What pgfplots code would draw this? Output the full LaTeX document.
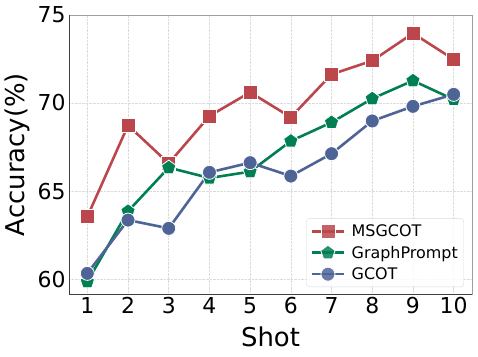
\documentclass[border=0pt]{standalone}
\usepackage{fontspec}
\setmainfont{DejaVu Sans}
\usepackage{pgfplots}
\pgfplotsset{compat=1.18}
\definecolor{mred}{RGB}{187,71,77}
\definecolor{mgreen}{RGB}{0,128,82}
\definecolor{mblue}{RGB}{78,100,150}

\begin{document}
\begin{tikzpicture}
\path[use as bounding box] (-69bp,-63bp) rectangle (409bp,294bp);
\begin{axis}[
  at={(0,0)}, anchor=south west,
  scale only axis, width=403bp, height=279bp,
  xmin=0.55, xmax=10.45, ymin=59.15, ymax=75,
  xtick={1,...,10}, ytick={60,65,70,75},
  grid=major, grid style={densely dotted, gray!28, line width=0.6pt},
  major tick length=0pt,
  axis line style={gray!75, line width=0.8pt},
  ticklabel style={font=\fontsize{22}{22}\selectfont},
  /pgf/number format/assume math mode=true,
  xlabel={Shot}, ylabel={Accuracy(\%)},
  label style={font=\fontsize{26}{26}\selectfont},
  xlabel style={at={(axis description cs:0.5,-0.155)}, anchor=center},
  ylabel style={at={(axis description cs:-0.129,0.5)}, anchor=center},
  every axis plot/.append style={line width=2.6pt},
  legend style={font=\fontsize{16}{18}\selectfont,
    at={(axis description cs:0.980,0.025)}, anchor=south east,
    draw=gray!30, rounded corners=3pt, fill=white, fill opacity=0.85,
    text opacity=1, inner xsep=4pt, inner ysep=4pt, row sep=4pt,
    /tikz/every odd column/.append style={column sep=4bp}},
  legend cell align=left,
  legend image code/.code={
    \draw[mark repeat=2,mark phase=2] plot coordinates {(0cm,0cm) (0.58cm,0cm) (1.16cm,0cm)};},
]
\addplot[mred, mark=square*, mark size=7bp, mark options={draw=white, line width=0.8pt, fill=mred}]
  coordinates {(1,63.54)(2,68.73)(3,66.57)(4,69.26)(5,70.61)(6,69.19)(7,71.63)(8,72.40)(9,73.96)(10,72.48)};
\addlegendentry{MSGCOT}
\addplot[mgreen, mark=pentagon*, mark size=7.5bp, mark options={draw=white, line width=0.8pt, fill=mgreen}]
  coordinates {(1,59.85)(2,63.85)(3,66.33)(4,65.74)(5,66.10)(6,67.84)(7,68.90)(8,70.25)(9,71.27)(10,70.20)};
\addlegendentry{GraphPrompt}
\addplot[mblue, mark=*, mark size=7bp, mark options={draw=white, line width=0.8pt, fill=mblue}]
  coordinates {(1,60.32)(2,63.35)(3,62.88)(4,66.06)(5,66.61)(6,65.85)(7,67.12)(8,68.98)(9,69.81)(10,70.49)};
\addlegendentry{GCOT}
\draw[black!75, line width=0.8pt] (rel axis cs:0,1) -- (rel axis cs:0,0) -- (rel axis cs:1,0);
\end{axis}
\end{tikzpicture}
\end{document}
